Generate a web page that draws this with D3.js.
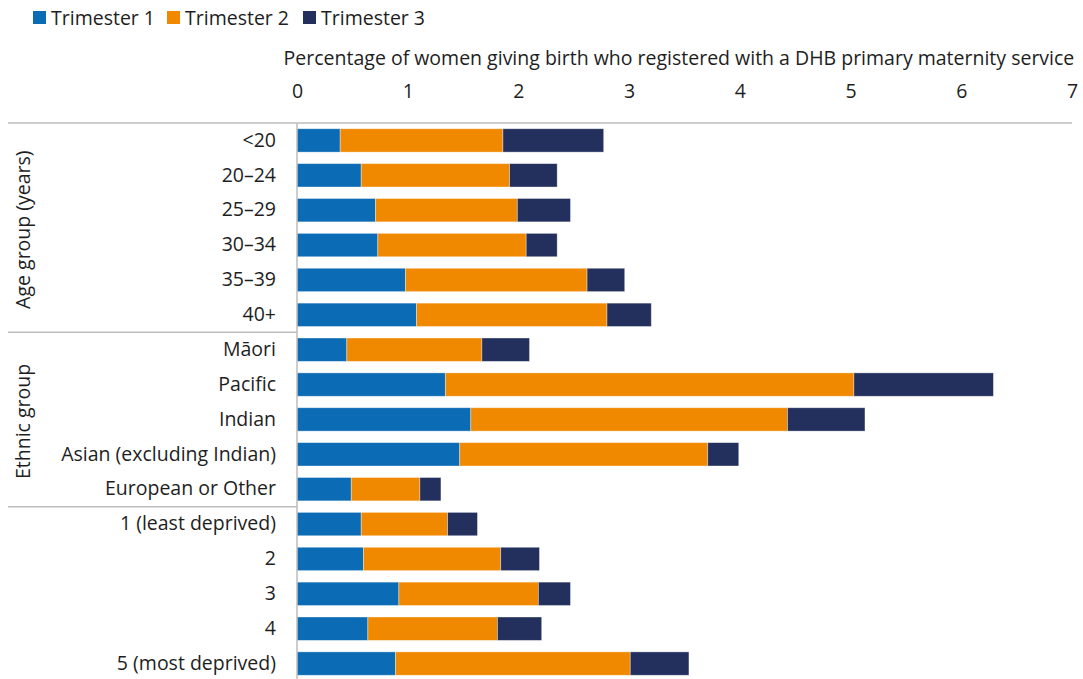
<!DOCTYPE html>
<html>
<head>
<meta charset="utf-8">
<script src="https://cdn.jsdelivr.net/npm/d3@7"></script>
<style>
  body { margin: 0; background: #fff; }
  text { font-family: "Open Sans", "Noto Sans", sans-serif; fill: #1e1e1e; }
</style>
</head>
<body>
<svg id="chart" width="1083" height="679"></svg>
<script>
// categories, top to bottom
let categories = ["<20", "20\u201324", "25\u201329", "30\u201334", "35\u201339", "40+",
    "M\u0101ori", "Pacific", "Indian", "Asian (excluding Indian)", "European or Other",
    "1 (least deprived)", "2", "3", "4", "5 (most deprived)"];
let trimester1 = [0.39, 0.58, 0.71, 0.73, 0.98, 1.08, 0.45, 1.34, 1.57, 1.47, 0.49, 0.58, 0.60, 0.92, 0.64, 0.89];
let trimester2 = [1.47, 1.34, 1.28, 1.34, 1.64, 1.72, 1.22, 3.69, 2.86, 2.24, 0.62, 0.78, 1.24, 1.26, 1.17, 2.12];
let trimester3 = [0.91, 0.43, 0.48, 0.28, 0.34, 0.40, 0.43, 1.26, 0.70, 0.28, 0.19, 0.27, 0.35, 0.29, 0.40, 0.53];
let seriesNames = ["Trimester 1", "Trimester 2", "Trimester 3"];
let xTicks = [0, 1, 2, 3, 4, 5, 6, 7];
let groups = [
    {label: "Age group (years)", first: "<20", last: "40+"},
    {label: "Ethnic group", first: "M\u0101ori", last: "European or Other"},
    {label: "", first: "1 (least deprived)", last: "5 (most deprived)"}
];
let axisTitle = "Percentage of women giving birth who registered with a DHB primary maternity service";

let colors = ["#0b6bb4", "#f08800", "#23305d"];
let fontSize = "19.5px";
let svg = d3.select("#chart");

let table = categories.map((c, i) => ({
    cat: c, "Trimester 1": trimester1[i], "Trimester 2": trimester2[i], "Trimester 3": trimester3[i]
}));
let stacked = d3.stack().keys(seriesNames)(table);

let x = d3.scaleLinear().domain([0, 7]).range([297, 1072]);
let y = d3.scaleBand().domain(categories).range([123, 681]).paddingInner(0.33).paddingOuter(0.165);
let step = y.step();
let colorScale = d3.scaleOrdinal().domain(seriesNames).range(colors);

// bars
svg.append("g").selectAll("g").data(stacked).enter().append("g")
    .attr("fill", d => colorScale(d.key))
    .selectAll("rect").data(d => d).enter().append("rect")
    .attr("x", d => x(d[0]))
    .attr("width", d => x(d[1]) - x(d[0]))
    .attr("y", d => y(d.data.cat))
    .attr("height", y.bandwidth())
    .attr("stroke", "#ffffff").attr("stroke-opacity", 0.45).attr("stroke-width", 0.8);

// top axis: tick labels only
let xAxis = d3.axisTop(x).tickValues(xTicks).tickSize(0).tickPadding(0).tickFormat(d3.format("d"));
let gx = svg.append("g").attr("transform", "translate(0,98)").call(xAxis);
gx.select(".domain").remove();
gx.selectAll("text").style("font-size", fontSize).attr("fill", "#1e1e1e")
    .style("font-family", "'Open Sans', sans-serif");

// axis title
svg.append("text").attr("x", x(3.45)).attr("y", 65).attr("text-anchor", "middle")
    .style("font-size", fontSize).text(axisTitle);

// left axis: category labels
let yAxis = d3.axisLeft(y).tickSize(0).tickPadding(21);
let gy = svg.append("g").attr("transform", "translate(297,0)").call(yAxis);
gy.select(".domain").remove();
gy.selectAll("text").style("font-size", fontSize).attr("fill", "#1e1e1e")
    .style("font-family", "'Open Sans', sans-serif");

// frame lines
let lineColor = "#bdbdbd";
svg.append("line").attr("x1", 8).attr("x2", 1072).attr("y1", 123).attr("y2", 123)
    .attr("stroke", lineColor).attr("stroke-width", 1.5);
svg.append("line").attr("x1", 297).attr("x2", 297).attr("y1", 123).attr("y2", 679)
    .attr("stroke", lineColor).attr("stroke-width", 1.5);

// group separators and labels
groups.forEach((g, i) => {
    let top = y(g.first) - (step - y.bandwidth()) / 2;
    let bottom = y(g.last) + y.bandwidth() + (step - y.bandwidth()) / 2;
    if (i > 0) {
        svg.append("line").attr("x1", 8).attr("x2", 297).attr("y1", top).attr("y2", top)
            .attr("stroke", lineColor).attr("stroke-width", 1.5);
    }
    if (g.label) {
        let cy = (top + bottom) / 2 + 2;
        svg.append("text").attr("transform", "translate(30," + cy + ") rotate(-90)")
            .attr("text-anchor", "middle").style("font-size", fontSize).text(g.label);
    }
});

// legend
let legend = svg.append("g").selectAll("g").data(seriesNames).enter().append("g")
    .attr("transform", (d, i) => "translate(" + [33, 167, 303][i] + ",11)");
legend.append("rect").attr("width", 13).attr("height", 13).attr("fill", d => colorScale(d));
legend.append("text").attr("x", 18).attr("y", 13.5).style("font-size", fontSize).text(d => d);
</script>
</body>
</html>
